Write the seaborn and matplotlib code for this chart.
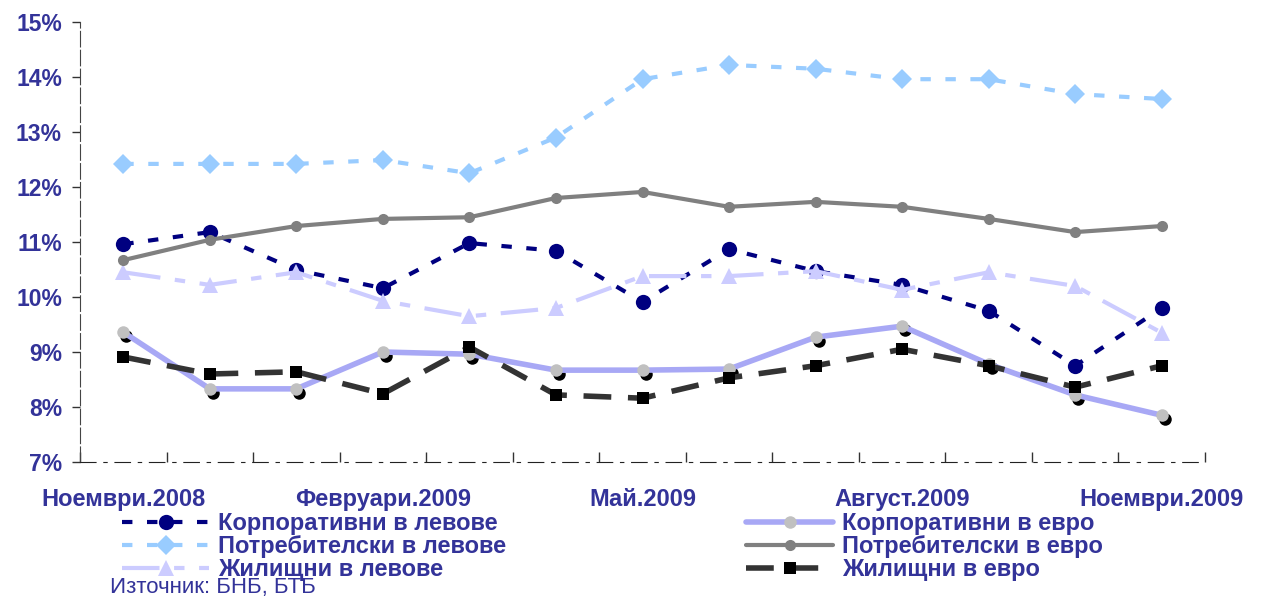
import numpy as np
import pandas as pd
import matplotlib
matplotlib.use('Agg')
import matplotlib.pyplot as plt
import matplotlib.transforms as mtransforms
from matplotlib.ticker import FixedLocator, FuncFormatter
import seaborn as sns

months = ['Ноември.2008', 'Декември.2008', 'Януари.2009', 'Февруари.2009', 'Март.2009',
          'Април.2009', 'Май.2009', 'Юни.2009', 'Юли.2009', 'Август.2009',
          'Септември.2009', 'Октомври.2009', 'Ноември.2009']

korp_lv = [10.96, 11.18, 10.49, 10.16, 10.98, 10.84, 9.91, 10.87, 10.47, 10.22, 9.75, 8.75, 9.80]
potr_lv = [12.42, 12.42, 12.42, 12.49, 12.25, 12.90, 13.96, 14.22, 14.15, 13.96, 13.96, 13.69, 13.60]
jil_lv = [10.45, 10.22, 10.45, 9.93, 9.65, 9.80, 10.38, 10.38, 10.47, 10.13, 10.45, 10.20, 9.35]
korp_eur = [9.36, 8.33, 8.33, 9.00, 8.96, 8.67, 8.67, 8.69, 9.27, 9.47, 8.78, 8.22, 7.85]
potr_eur = [10.67, 11.04, 11.29, 11.42, 11.45, 11.80, 11.91, 11.64, 11.73, 11.64, 11.42, 11.18, 11.29]
jil_eur = [8.91, 8.60, 8.64, 8.24, 9.09, 8.22, 8.16, 8.53, 8.75, 9.05, 8.75, 8.36, 8.75]

names = ['Корпоративни в левове', 'Потребителски в левове', 'Жилищни в левове',
         'Корпоративни в евро', 'Потребителски в евро', 'Жилищни в евро']
source = 'Източник: БНБ, БТБ'

TXT = '#333399'

df = pd.DataFrame({'i': np.arange(len(months)), 'month': months,
                   names[0]: korp_lv, names[1]: potr_lv, names[2]: jil_lv,
                   names[3]: korp_eur, names[4]: potr_eur, names[5]: jil_eur})

sns.set_style('white')
plt.rcParams['font.family'] = ['Liberation Sans', 'DejaVu Sans']

fig = plt.figure(figsize=(12.72, 5.99), dpi=100)
ax = fig.add_axes([80 / 1272, 1 - 462 / 599, (1205 - 80) / 1272, (462 - 22) / 599])

styles = [
    dict(color='#000080', marker='o', ms=11, lw=3, dashes=(2.5, 3.5)),
    dict(color='#99CCFF', marker='D', ms=10, lw=3, dashes=(2.5, 3.5)),
    dict(color='#CCCCFF', marker='^', ms=12, lw=3, dashes=(9, 3.5, 2.5, 3.5)),
    dict(color='#A8A8F5', marker='o', ms=9, lw=4, dashes=None, mfc='#C0C0C0'),
    dict(color='#808080', marker='o', ms=8, lw=3, dashes=None),
    dict(color='#333333', marker='s', ms=9, lw=4, dashes=(5, 3), mfc='black'),
]

handles = []
for n, st in zip(names, styles):
    if n == names[3]:
        # black shadow circles under the euro corporate markers
        sns.lineplot(data=df, x='i', y=n, ax=ax, color='black', marker='o',
                     markersize=st['ms'], linestyle='', markeredgewidth=0)
        sh = ax.lines[-1]
        sh.set_transform(mtransforms.offset_copy(ax.transData, fig, x=2.2, y=-3, units='points'))
    sns.lineplot(data=df, x='i', y=n, ax=ax, color=st['color'], marker=st['marker'],
                 markersize=st['ms'], linewidth=st['lw'], markeredgewidth=0)
    ln = ax.lines[-1]
    if st['dashes'] is not None:
        ln.set_dashes(st['dashes'])
    if 'mfc' in st:
        ln.set_markerfacecolor(st['mfc'])
    ln.set_label(n)
    handles.append(ln)

if ax.get_legend() is not None:
    ax.get_legend().remove()

ax.set_xlim(-0.5, len(months) - 0.5)
ax.set_ylim(7, 15)
ax.set_xlabel('')
ax.set_ylabel('')

ax.xaxis.set_major_locator(FixedLocator([0, 3, 6, 9, 12]))
ax.set_xticklabels([months[k] for k in [0, 3, 6, 9, 12]])
ax.xaxis.set_minor_locator(FixedLocator(np.arange(-0.5, len(months), 1.0)))
ax.tick_params(axis='x', which='major', length=0, pad=19, labelsize=17, labelcolor=TXT)
ax.tick_params(axis='x', which='minor', length=7, direction='in', color='#333333', width=1, bottom=True)
ax.set_yticks(np.arange(7, 16, 1))
ax.yaxis.set_major_formatter(FuncFormatter(lambda v, p: f'{v:.0f}%'))
ax.tick_params(axis='y', length=6, direction='out', color='#333333', width=1, left=True,
               labelsize=16.5, labelcolor=TXT, pad=7)
for lab in ax.get_xticklabels() + ax.get_yticklabels():
    lab.set_fontweight('bold')

for s in ['top', 'right']:
    ax.spines[s].set_visible(False)
ax.spines['left'].set_color('#444444')
ax.spines['left'].set_linestyle((0, (14, 3)))
ax.spines['bottom'].set_color('#222222')
ax.spines['bottom'].set_linestyle((0, (14, 7, 3, 7)))
ax.grid(False)

leg_kw = dict(frameon=False, labelspacing=0.0, handlelength=3.7,
              handletextpad=0.35, borderaxespad=0, borderpad=0,
              prop=dict(weight='bold', size=17))
l1 = fig.legend(handles=handles[:3], loc='upper left',
                bbox_to_anchor=(122 / 1272, 1 - 512 / 599), **leg_kw)
l2 = fig.legend(handles=handles[3:], loc='upper left',
                bbox_to_anchor=(746 / 1272, 1 - 512 / 599), **leg_kw)
for lg in (l1, l2):
    for t in lg.get_texts():
        t.set_color(TXT)

fig.text(110 / 1272, 1 - 588 / 599, source, fontsize=16, color=TXT, va='center', ha='left')

fig.savefig('out.png', dpi=100)
